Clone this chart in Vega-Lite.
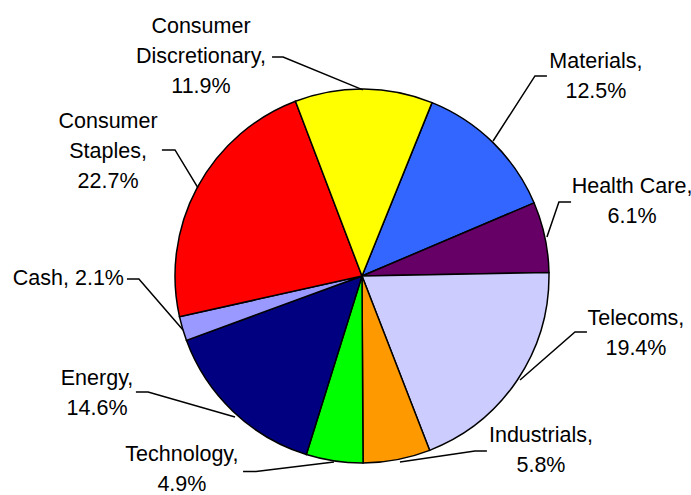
{
  "$schema": "https://vega.github.io/schema/vega-lite/v6.json",
  "width": 691,
  "height": 495,
  "autosize": {"type": "none"},
  "padding": 0,
  "background": "white",
  "view": {"stroke": null},
  "config": {"font": "Liberation Sans"},
  "datasets": {
    "slices": [
      {"sector": "Materials", "pct": 12.5, "ord": 1},
      {"sector": "Health Care", "pct": 6.1, "ord": 2},
      {"sector": "Telecoms", "pct": 19.4, "ord": 3},
      {"sector": "Industrials", "pct": 5.8, "ord": 4},
      {"sector": "Technology", "pct": 4.9, "ord": 5},
      {"sector": "Energy", "pct": 14.6, "ord": 6},
      {"sector": "Cash", "pct": 2.1, "ord": 7},
      {"sector": "Consumer Staples", "pct": 22.7, "ord": 8},
      {"sector": "Consumer Discretionary", "pct": 11.9, "ord": 9}
    ],
    "labels": [
      {"sector": "Consumer Discretionary", "text": "Consumer\nDiscretionary,\n11.9%", "lx": -0.861, "ly": 1.332},
      {"sector": "Materials", "text": "Materials,\n12.5%", "lx": 1.251, "ly": 1.144},
      {"sector": "Health Care", "text": "Health Care,\n6.1%", "lx": 1.444, "ly": 0.474},
      {"sector": "Telecoms", "text": "Telecoms,\n19.4%", "lx": 1.465, "ly": -0.230},
      {"sector": "Industrials", "text": "Industrials,\n5.8%", "lx": 0.957, "ly": -0.854},
      {"sector": "Technology", "text": "Technology,\n4.9%", "lx": -0.963, "ly": -0.957},
      {"sector": "Energy", "text": "Energy,\n14.6%", "lx": -1.417, "ly": -0.551},
      {"sector": "Cash", "text": "Cash, 2.1%", "lx": -1.570, "ly": -0.016},
      {"sector": "Consumer Staples", "text": "Consumer\nStaples,\n22.7%", "lx": -1.358, "ly": 0.824}
    ],
    "leaders": [
      {"sector": "Consumer Discretionary", "pt": 1, "lx": -0.481, "ly": 1.171},
      {"sector": "Consumer Discretionary", "pt": 2, "lx": -0.422, "ly": 1.171},
      {"sector": "Consumer Discretionary", "pt": 3, "lx": 0.005, "ly": 0.995},
      {"sector": "Materials", "pt": 1, "lx": 0.989, "ly": 1.070},
      {"sector": "Materials", "pt": 2, "lx": 0.925, "ly": 1.070},
      {"sector": "Materials", "pt": 3, "lx": 0.701, "ly": 0.722},
      {"sector": "Health Care", "pt": 1, "lx": 1.118, "ly": 0.396},
      {"sector": "Health Care", "pt": 2, "lx": 1.053, "ly": 0.396},
      {"sector": "Health Care", "pt": 3, "lx": 0.989, "ly": 0.209},
      {"sector": "Telecoms", "pt": 1, "lx": 1.203, "ly": -0.299},
      {"sector": "Telecoms", "pt": 2, "lx": 1.139, "ly": -0.299},
      {"sector": "Telecoms", "pt": 3, "lx": 0.845, "ly": -0.556},
      {"sector": "Industrials", "pt": 1, "lx": 0.668, "ly": -0.936},
      {"sector": "Industrials", "pt": 2, "lx": 0.604, "ly": -0.936},
      {"sector": "Industrials", "pt": 3, "lx": 0.203, "ly": -0.995},
      {"sector": "Technology", "pt": 1, "lx": -0.636, "ly": -1.045},
      {"sector": "Technology", "pt": 2, "lx": -0.567, "ly": -1.045},
      {"sector": "Technology", "pt": 3, "lx": -0.150, "ly": -0.995},
      {"sector": "Energy", "pt": 1, "lx": -1.209, "ly": -0.620},
      {"sector": "Energy", "pt": 2, "lx": -1.144, "ly": -0.620},
      {"sector": "Energy", "pt": 3, "lx": -0.679, "ly": -0.754},
      {"sector": "Cash", "pt": 1, "lx": -1.257, "ly": -0.016},
      {"sector": "Cash", "pt": 2, "lx": -1.193, "ly": -0.016},
      {"sector": "Cash", "pt": 3, "lx": -0.957, "ly": -0.289},
      {"sector": "Consumer Staples", "pt": 1, "lx": -1.070, "ly": 0.674},
      {"sector": "Consumer Staples", "pt": 2, "lx": -1.000, "ly": 0.674},
      {"sector": "Consumer Staples", "pt": 3, "lx": -0.877, "ly": 0.471}
    ]
  },
  "resolve": {"scale": {"x": "shared", "y": "shared"}},
  "layer": [
    {
      "data": {"name": "slices"},
      "mark": {"type": "arc", "radius": 187, "stroke": "black", "strokeWidth": 1.5},
      "encoding": {
        "theta": {"field": "pct", "type": "quantitative", "stack": true, "scale": {"range": [0.384, 6.667]}},
        "order": {"field": "ord", "type": "quantitative"},
        "x": {"datum": 0, "type": "quantitative", "scale": {"domain": [-1.9358, 1.7594], "nice": false, "zero": false}, "axis": null},
        "y": {"datum": 0, "type": "quantitative", "scale": {"domain": [-1.1711, 1.4759], "nice": false, "zero": false}, "axis": null},
        "color": {
          "field": "sector",
          "type": "nominal",
          "legend": null,
          "scale": {
            "domain": ["Materials", "Health Care", "Telecoms", "Industrials", "Technology", "Energy", "Cash", "Consumer Staples", "Consumer Discretionary"],
            "range": ["#3366FF", "#660066", "#CCCCFF", "#FF9900", "#00FF00", "#000080", "#9999FF", "#FF0000", "#FFFF00"]
          }
        }
      }
    },
    {
      "data": {"name": "leaders"},
      "mark": {"type": "line", "color": "black", "strokeWidth": 1.5},
      "encoding": {
        "x": {"field": "lx", "type": "quantitative", "axis": null},
        "y": {"field": "ly", "type": "quantitative", "axis": null},
        "detail": {"field": "sector"},
        "order": {"field": "pt", "type": "quantitative"}
      }
    },
    {
      "data": {"name": "labels"},
      "mark": {"type": "text", "fontSize": 21.5, "font": "Liberation Sans", "color": "black", "align": "center", "baseline": "middle", "lineBreak": "\n", "lineHeight": 30},
      "encoding": {
        "x": {"field": "lx", "type": "quantitative", "axis": null},
        "y": {"field": "ly", "type": "quantitative", "axis": null},
        "text": {"field": "text"}
      }
    }
  ]
}
